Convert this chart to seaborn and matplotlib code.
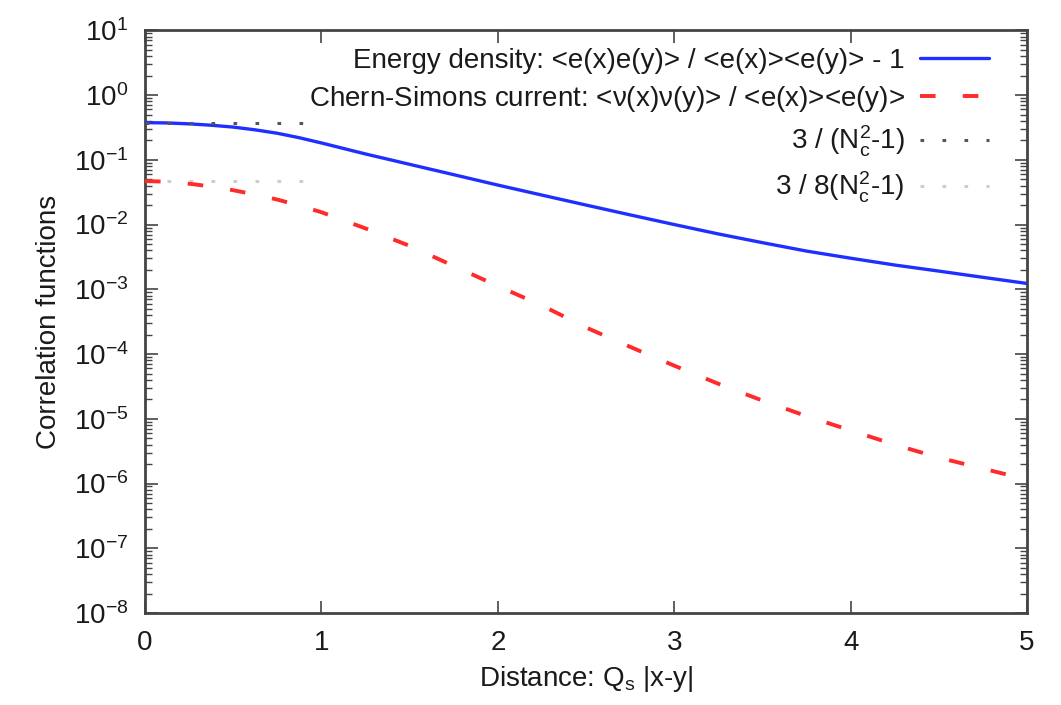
import numpy as np
import pandas as pd
import matplotlib
matplotlib.use("Agg")
import matplotlib.pyplot as plt
import seaborn as sns
from matplotlib.ticker import LogLocator, LogFormatterMathtext, MultipleLocator, NullFormatter

# ---- data ----
distance = [0.0, 0.125, 0.25, 0.375, 0.5, 0.625, 0.75, 0.875, 1.0, 1.25, 1.5, 1.75,
            2.0, 2.25, 2.5, 2.75, 3.0, 3.25, 3.5, 3.75, 4.0, 4.25, 4.5, 4.75, 5.0]
energy_corr = [0.375, 0.371, 0.359, 0.342, 0.320, 0.290, 0.257, 0.219, 0.182,
               0.123, 0.0851, 0.0589, 0.0407, 0.0285, 0.0200, 0.0141, 0.0100,
               0.00716, 0.00525, 0.00389, 0.00302, 0.00237, 0.00191, 0.00153,
               0.00123]
cs_corr = [0.0469, 0.0459, 0.0427, 0.0387, 0.0339, 0.0290, 0.0243, 0.0196,
           0.0155, 0.00871, 0.00468, 0.00229, 0.00112, 5.62e-4, 2.57e-4,
           1.29e-4, 6.61e-5, 3.47e-5, 1.91e-5, 1.10e-5, 6.61e-6, 3.98e-6,
           2.51e-6, 1.70e-6, 1.15e-6]
ref_x = [0.0, 0.95]
ref_a = [0.375, 0.375]        # 3/(Nc^2-1)
ref_b = [0.046875, 0.046875]  # 3/8(Nc^2-1)

labels = [r"Energy density: <e(x)e(y)> / <e(x)><e(y)> - 1",
          r"Chern-Simons current: <$\nu$(x)$\nu$(y)> / <e(x)><e(y)>",
          r"3 / (N$_\mathregular{c}^\mathregular{2}$-1)",
          r"3 / 8(N$_\mathregular{c}^\mathregular{2}$-1)"]

sns.set_style("ticks")
fam = ["Liberation Sans", "DejaVu Sans"]
plt.rcParams["font.family"] = fam
plt.rcParams["mathtext.fontset"] = "custom"
plt.rcParams["mathtext.rm"] = "Liberation Sans"
plt.rcParams["mathtext.it"] = "Liberation Sans"
plt.rcParams["mathtext.default"] = "regular"

FS = 20
TXT = "#1a1a1a"

fig = plt.figure(figsize=(10.61, 7.05), dpi=100)
ax = fig.add_axes([0.1367, 0.1305, 0.8313, 0.8265])

df_e = pd.DataFrame({"x": distance, "y": energy_corr})
df_c = pd.DataFrame({"x": distance, "y": cs_corr})
df_a = pd.DataFrame({"x": ref_x, "y": ref_a})
df_b = pd.DataFrame({"x": ref_x, "y": ref_b})

sns.lineplot(data=df_a, x="x", y="y", ax=ax, color="#555555", lw=2.2,
             label=labels[2], zorder=5)
sns.lineplot(data=df_b, x="x", y="y", ax=ax, color="#cccccc", lw=2.2,
             label=labels[3], zorder=3)
sns.lineplot(data=df_e, x="x", y="y", ax=ax, color="#1f2fff", lw=2.4,
             label=labels[0], zorder=4)
sns.lineplot(data=df_c, x="x", y="y", ax=ax, color="#ff2a2a", lw=2.8,
             label=labels[1], zorder=4)

lines = ax.get_lines()
lines[0].set_dashes([1.2, 6.0])
lines[1].set_dashes([1.2, 6.0])
lines[3].set_dashes([4.0, 7.0])

ax.set_yscale("log")
ax.set_xlim(0, 5)
ax.set_ylim(1e-8, 1e1)

ax.yaxis.set_major_locator(LogLocator(base=10, numticks=20))
ax.yaxis.set_minor_locator(LogLocator(base=10, subs=np.arange(2, 10), numticks=20))
ax.yaxis.set_major_formatter(LogFormatterMathtext())
ax.yaxis.set_minor_formatter(NullFormatter())
ax.xaxis.set_major_locator(MultipleLocator(1))

ax.tick_params(which="both", direction="in", top=True, right=True,
               color="#444444", labelsize=FS, labelcolor=TXT)
ax.tick_params(which="major", length=9, width=1.2, pad=12)
ax.tick_params(which="minor", length=5, width=1.0)
for s in ax.spines.values():
    s.set_color("#444444")
    s.set_linewidth(2.0)

ax.set_xlabel(r"Distance: Q$_\mathregular{s}$ |x-y|", fontsize=FS, color=TXT, labelpad=6)
ax.set_ylabel("Correlation functions", fontsize=FS, color=TXT, labelpad=8)

h, l = ax.get_legend_handles_labels()
order = [l.index(t) for t in labels]
leg = ax.legend([h[i] for i in order], [l[i] for i in order], loc="upper right",
                frameon=False, markerfirst=False, fontsize=FS, handlelength=2.5,
                labelspacing=0.36, borderaxespad=0.2, handletextpad=0.55,
                bbox_to_anchor=(0.976, 0.998))
for t in leg.get_texts():
    t.set_color(TXT)

fig.savefig("out.png", dpi=100)
